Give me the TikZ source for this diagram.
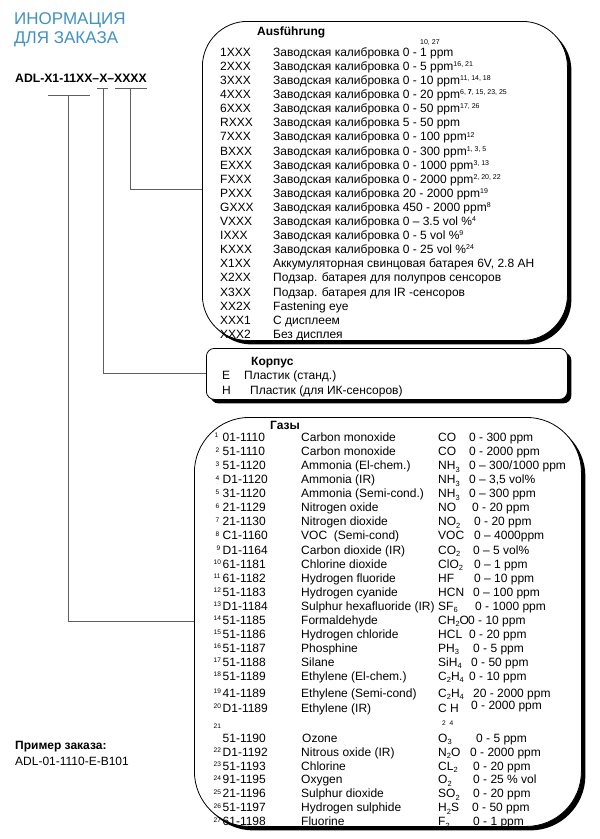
\documentclass[tikz,border=0pt]{standalone}
\usepackage{fontspec}
\setmainfont{Liberation Sans}
\usetikzlibrary{shadows}
\definecolor{titleblue}{RGB}{66,145,195}
\definecolor{linegray}{RGB}{95,95,95}
\newcommand\up[1]{\raisebox{3.8pt}{\fontsize{7}{7}\selectfont #1}}
\newcommand\dn[1]{\raisebox{-2.2pt}{\fontsize{7.5}{7.5}\selectfont #1}}
\newcommand\gasrow[8]{%
  \node[supnum] (gn#1) at (#8,{#2+0.5}) {#1};
  \node[txt] (gc#1) at (222.5,{#2+4.3}) {#3};
  \node[txt] (ga#1) at (301,{#2+4.3}) {#4};
  \node[txt] (gf#1) at (438,{#2+4.3}) {#5};
  \node[txt] (gr#1) at (#7,{#2+4.3}) {#6};
}
\begin{document}
\begin{tikzpicture}[x=1pt,y=-1pt,
  txt/.style={anchor=base west,inner sep=0pt,font=\fontsize{12}{14}\selectfont},
  boldtxt/.style={txt,font=\fontsize{12}{14}\selectfont\bfseries},
  supnum/.style={anchor=base west,inner sep=0pt,font=\fontsize{6.6}{8}\selectfont},
  framebox/.style={draw,fill=white,line width=0.8pt,inner sep=0pt,anchor=north west,
    drop shadow={shadow xshift=4pt,shadow yshift=-4pt,opacity=1,fill=black}},
  conn/.style={draw=linegray,line width=1pt}]
\useasboundingbox (0,0) rectangle (600,839);

% title
\node[anchor=base west,inner sep=0pt,text=titleblue,font=\fontsize{17}{20}\selectfont] (title1) at (14,24) {ИНОРМАЦИЯ};
\node[anchor=base west,inner sep=0pt,text=titleblue,font=\fontsize{17}{20}\selectfont] (title2) at (14,43.3) {ДЛЯ ЗАКАЗА};

% order code
\node[anchor=base west,inner sep=0pt,font=\fontsize{12.2}{14}\selectfont\bfseries] (code) at (15,82.5) {ADL-X1-11XX–X–XXXX};

% boxes
\node[framebox,rounded corners=45pt,minimum width=365pt,minimum height=319pt] (ausf) at (202,21) {};
\node[framebox,rounded corners=8pt,minimum width=361pt,minimum height=51pt] (case) at (206,348) {};
\node[framebox,rounded corners=55pt,minimum width=387pt,minimum height=409pt] (gas) at (194,417) {};

% connectors
\coordinate (ua1) at (48,95);  \coordinate (ua2) at (90,95);
\coordinate (ub1) at (97,88);  \coordinate (ub2) at (108,88);
\coordinate (uc1) at (115,88); \coordinate (uc2) at (147,88);
\coordinate (k1) at (68,95);
\coordinate (k2) at (103,88);
\coordinate (k3) at (130,88);
\draw[conn] (ua1) -- (ua2);
\draw[conn] (ub1) -- (ub2);
\draw[conn] (uc1) -- (uc2);
\draw[conn] (k1) |- (gas.west);
\draw[conn] (k2) |- (case.west);
\draw[conn] (k3) |- ([yshift=-8.5pt]ausf.west);

% top box
\node[boldtxt] (ausfh) at (257,35) {Ausführung};
\node[supnum,font=\fontsize{7}{8}\selectfont] (sup1) at (420,44) {10, 27};
\foreach \cd/\ds [count=\i] in {
  1XXX/{Заводская калибровка 0 - 1 ppm},
  2XXX/{Заводская калибровка 0 - 5 ppm\up{16, 21}},
  3XXX/{Заводская калибровка 0 - 10 ppm\up{11, 14, 18}},
  4XXX/{Заводская калибровка 0 - 20 ppm\up{6, \textbf{7}, 15, 23, 25}},
  6XXX/{Заводская калибровка 0 - 50 ppm\up{17, 26}},
  RXXX/{Заводская калибровка 5 - 50 ppm},
  7XXX/{Заводская калибровка 0 - 100 ppm\up{12}},
  BXXX/{Заводская калибровка 0 - 300 ppm\up{1, 3, 5}},
  EXXX/{Заводская калибровка 0 - 1000 ppm\up{3, 13}},
  FXXX/{Заводская калибровка 0 - 2000 ppm\up{2, 20, 22}},
  PXXX/{Заводская калибровка 20 - 2000 ppm\up{19}},
  GXXX/{Заводская калибровка 450 - 2000 ppm\up{8}},
  VXXX/{Заводская калибровка 0 – 3.5 vol \%\up{4}},
  IXXX/{Заводская калибровка 0 - 5 vol \%\up{9}},
  KXXX/{Заводская калибровка 0 - 25 vol \%\up{24}},
  X1XX/{Аккумуляторная свинцовая батарея 6V, 2.8 AH},
  X2XX/{Подзар. батарея для полупров сенсоров},
  X3XX/{Подзар. батарея для IR -сенсоров},
  XX2X/{Fastening eye},
  XXX1/{С дисплеем},
  XXX2/{Без дисплея}}
{
  \node[txt] (tc\i) at (220,{56.3+14.1*(\i-1)}) {\cd};
  \node[txt] (td\i) at (273,{56.3+14.1*(\i-1)}) {\ds};
}

% middle box
\node[boldtxt] (caseh) at (251,365) {Корпус};
\node[txt] (ce) at (222,379) {E};
\node[txt] (cet) at (244,379) {Пластик (станд.)};
\node[txt] (ch) at (222,394) {H};
\node[txt] (cht) at (250,394) {Пластик (для ИК-сенсоров)};

% gas box
\node[boldtxt] (gash) at (270,429) {Газы};
\gasrow{1}{437}{01-1110}{Carbon monoxide}{CO}{0 - 300 ppm}{469}{214.5}
\gasrow{2}{451.5}{51-1110}{Carbon monoxide}{CO}{0 - 2000 ppm}{469}{215.5}
\gasrow{3}{465.5}{51-1120}{Ammonia (El-chem.)}{NH\dn{3}}{0 – 300/1000 ppm}{469}{215.5}
\gasrow{4}{479.5}{D1-1120}{Ammonia (IR)}{NH\dn{3}}{0 – 3,5 vol\%}{469}{215.5}
\gasrow{5}{493.5}{31-1120}{Ammonia (Semi-cond.)}{NH\dn{3}}{0 – 300 ppm}{469}{215.5}
\gasrow{6}{507.5}{21-1129}{Nitrogen oxide}{NO}{0 - 20 ppm}{472}{215.5}
\gasrow{7}{521.5}{21-1130}{Nitrogen dioxide}{NO\dn{2}}{0 - 20 ppm}{474}{215.5}
\gasrow{8}{535.5}{C1-1160}{VOC\ \ (Semi-cond)}{VOC}{0 – 4000ppm}{474}{215.5}
\gasrow{9}{550}{D1-1164}{Carbon dioxide (IR)}{CO\dn{2}}{0 – 5 vol\%}{473}{216.5}
\gasrow{10}{564}{61-1181}{Chlorine dioxide}{ClO\dn{2}}{0 – 1 ppm}{474}{213.5}
\gasrow{11}{578}{61-1182}{Hydrogen fluoride}{HF}{0 – 10 ppm}{474}{213.5}
\gasrow{12}{592}{51-1183}{Hydrogen cyanide}{HCN}{0 – 100 ppm}{473}{213.5}
\gasrow{13}{606}{D1-1184}{Sulphur hexafluoride (IR)}{SF\dn{6}}{0 - 1000 ppm}{475}{213.5}
\gasrow{14}{620}{51-1185}{Formaldehyde}{CH\dn{2}O}{0 - 10 ppm}{468}{213.5}
\gasrow{15}{634}{51-1186}{Hydrogen chloride}{HCL}{0 - 20 ppm}{469}{213.5}
\gasrow{16}{648}{51-1187}{Phosphine}{PH\dn{3}}{0 - 5 ppm}{473}{213.5}
\gasrow{17}{662}{51-1188}{Silane}{SiH\dn{4}}{0 - 50 ppm}{471}{213.5}
\gasrow{18}{676}{51-1189}{Ethylene (El-chem.)}{C\dn{2}H\dn{4}}{0 - 10 ppm}{469}{213.5}
\gasrow{19}{693}{41-1189}{Ethylene (Semi-cond)}{C\dn{2}H\dn{4}}{20 - 2000 ppm}{473}{213.5}
% row 20 (formula subscripts set below the letters)
\node[supnum] (gn20) at (213.5,708.5) {20};
\node[txt] (gc20) at (222.5,712.3) {D1-1189};
\node[txt] (ga20) at (301,712.3) {Ethylene (IR)};
\node[txt] (gf20) at (438,712.3) {C H};
\node[supnum] (gf20s) at (442,725) {2\ \ 4};
\node[txt] (gr20) at (471,709.3) {0 - 2000 ppm};
% row 21
\node[supnum] (gn21) at (213.5,728.5) {21};
\node[txt] (gc21) at (222.5,742.3) {51-1190};
\node[txt] (ga21) at (302,742.3) {Ozone};
\node[txt] (gf21) at (438,742.3) {O\dn{3}};
\node[txt] (gr21) at (476,742.3) {0 - 5 ppm};
\gasrow{22}{752}{D1-1192}{Nitrous oxide (IR)}{N\dn{2}O}{0 - 2000 ppm}{470}{213.5}
\gasrow{23}{766}{51-1193}{Chlorine}{CL\dn{2}}{0 - 20 ppm}{473}{213.5}
\gasrow{24}{779.5}{91-1195}{Oxygen}{O\dn{2}}{0 - 25 \% vol}{473}{213.5}
\gasrow{25}{793.5}{21-1196}{Sulphur dioxide}{SO\dn{2}}{0 - 20 ppm}{473}{213.5}
\gasrow{26}{807.5}{51-1197}{Hydrogen sulphide}{H\dn{2}S}{0 - 50 ppm}{472}{213.5}
\gasrow{27}{821.5}{61-1198}{Fluorine}{F\dn{2}}{0 - 1 ppm}{473}{213.5}

% example
\node[anchor=base west,inner sep=0pt,font=\fontsize{12}{14}\selectfont\bfseries] (ex1) at (15,749) {Пример заказа:};
\node[anchor=base west,inner sep=0pt,font=\fontsize{12}{14}\selectfont] (ex2) at (15,765) {ADL-01-1110-E-B101};
\end{tikzpicture}
\end{document}
